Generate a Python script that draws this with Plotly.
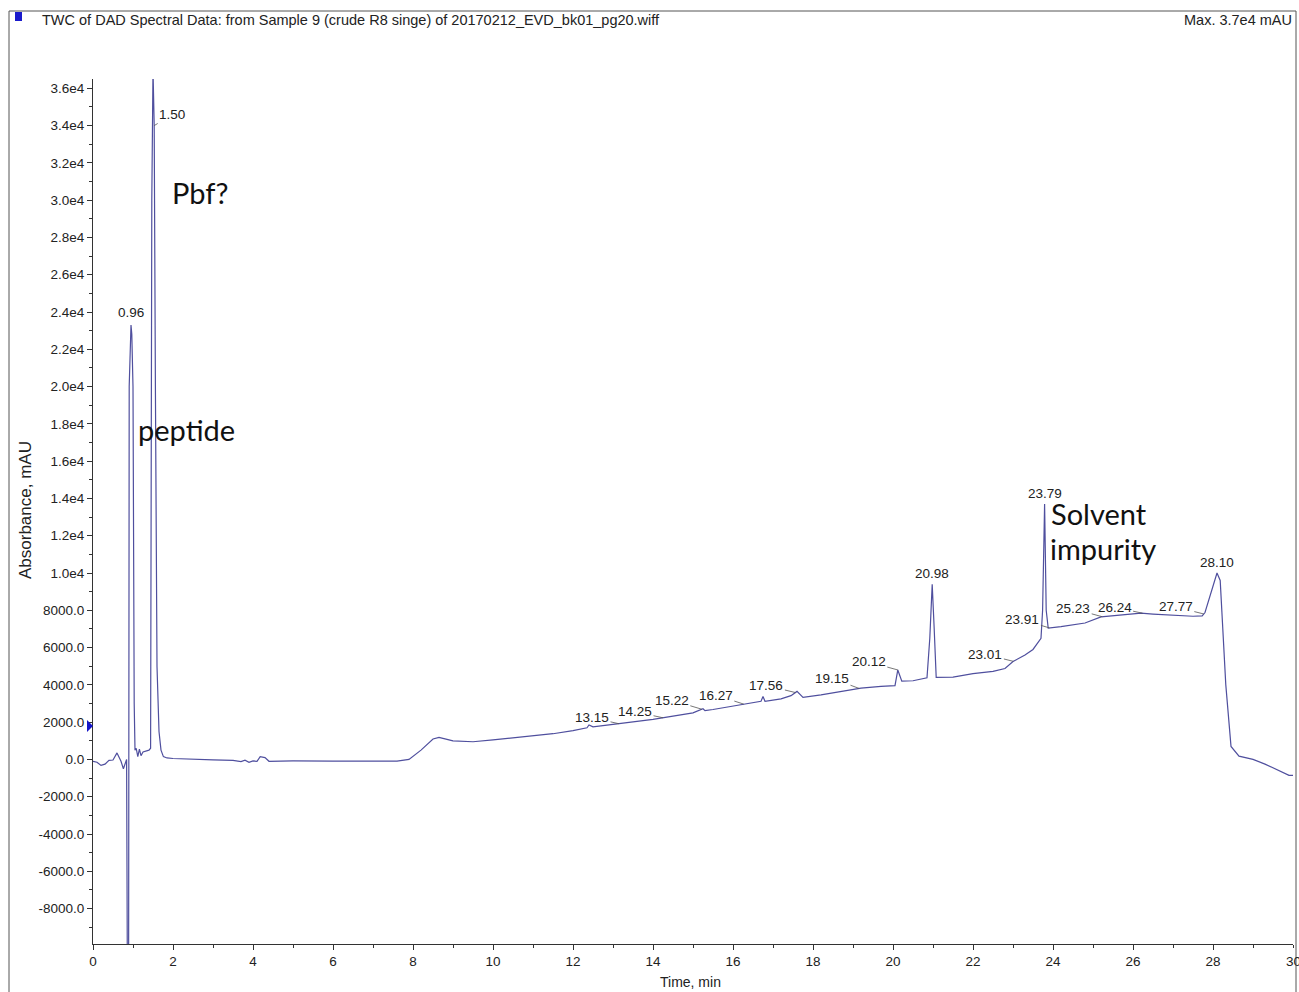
import numpy as np
import plotly.graph_objects as go

# Chromatogram trace: retention time (min) vs absorbance (mAU)
time_min = [
    0.00, 0.10, 0.20, 0.30, 0.40, 0.50, 0.60, 0.65, 0.70, 0.76, 0.80, 0.84,
    0.86, 0.89, 0.905, 0.93, 0.95, 0.97, 1.00, 1.03, 1.05, 1.08, 1.12, 1.16,
    1.20, 1.25, 1.32, 1.40, 1.44, 1.47, 1.50, 1.53, 1.56, 1.60, 1.65, 1.70,
    1.76, 1.85, 2.00, 2.50, 3.00, 3.50, 3.70, 3.80, 3.90, 4.00, 4.10, 4.18,
    4.30, 4.40, 5.00, 6.00, 7.00, 7.60, 7.90, 8.20, 8.50, 8.65, 9.00, 9.50,
    10.00, 10.50, 11.00, 11.50, 12.00, 12.35, 12.40, 12.50, 13.00, 13.50,
    14.00, 14.50, 15.00, 15.25, 15.30, 15.50, 16.00, 16.30, 16.60, 16.70,
    16.75, 16.80, 17.20, 17.45, 17.60, 17.75, 18.20, 18.70, 19.20, 19.70,
    20.05, 20.12, 20.22, 20.50, 20.85, 20.92, 20.98, 21.03, 21.08, 21.50,
    22.00, 22.50, 22.80, 23.00, 23.30, 23.50, 23.70, 23.74, 23.79, 23.83,
    23.88, 24.20, 24.80, 25.20, 25.60, 26.20, 26.50, 27.00, 27.50, 27.73,
    27.80, 28.10, 28.18, 28.32, 28.45, 28.65, 29.00, 29.30, 29.60, 29.90,
    30.00,
]
absorbance_mau = [
    -100, -150, -320, -250, -50, -30, 350, 150, -100, -500, -200, 0,
    -12000, -12000, 20000, 22500, 23300, 22800, 20000, 3000, 500, 600, 150, 550,
    200, 400, 450, 500, 600, 30000, 37000, 34000, 20000, 5000, 1500, 500,
    150, 80, 50, 0, -20, -50, -120, -40, -150, -80, -100, 150,
    100, -100, -80, -90, -100, -90, 0, 500, 1100, 1180, 1000, 950,
    1050, 1150, 1280, 1380, 1550, 1700, 1850, 1750, 1880, 2000,
    2150, 2320, 2500, 2720, 2620, 2680, 2850, 2980, 3080, 3120,
    3380, 3120, 3250, 3420, 3650, 3330, 3460, 3650, 3830, 3920,
    3960, 4800, 4200, 4220, 4380, 6500, 9400, 7000, 4400, 4420,
    4600, 4720, 4880, 5250, 5600, 5900, 6500, 8000, 13700, 8000,
    7050, 7120, 7320, 7650, 7720, 7850, 7800, 7720, 7680, 7700,
    7880, 10000, 9600, 4000, 700, 180, 0, -250, -550, -850,
    -860,
]

# Retention-time labels
peak_labels = ["0.96", "1.50", "13.15", "14.25", "15.22", "16.27", "17.56",
               "19.15", "20.12", "20.98", "23.01", "23.79", "23.91", "25.23",
               "26.24", "27.77", "28.10"]
peak_times = [0.95, 1.53, 13.15, 14.25, 15.22, 16.27, 17.56,
              19.15, 20.12, 20.98, 23.01, 23.79, 23.91, 25.23,
              26.24, 27.77, 28.10]

# Axis ticks
x_tick_vals = [0, 2, 4, 6, 8, 10, 12, 14, 16, 18, 20, 22, 24, 26, 28, 30]
x_tick_text = ["0", "2", "4", "6", "8", "10", "12", "14", "16", "18", "20",
               "22", "24", "26", "28", "30"]
y_tick_vals = [-8000, -6000, -4000, -2000, 0, 2000, 4000, 6000, 8000, 10000,
               12000, 14000, 16000, 18000, 20000, 22000, 24000, 26000, 28000,
               30000, 32000, 34000, 36000]
y_tick_text = ["-8000.0", "-6000.0", "-4000.0", "-2000.0", "0.0", "2000.0",
               "4000.0", "6000.0", "8000.0", "1.0e4", "1.2e4", "1.4e4",
               "1.6e4", "1.8e4", "2.0e4", "2.2e4", "2.4e4", "2.6e4", "2.8e4",
               "3.0e4", "3.2e4", "3.4e4", "3.6e4"]

threshold_mau = 1800  # marker on the absorbance axis

W, H = 1299, 992
ML, MR, MT, MB = 93, 6, 79, 48
PW, PH = W - ML - MR, H - MT - MB
Y_RANGE = [-9900, 36500]


def px(x):
    return (x - ML) / PW


def py(y):
    return (H - MB - y) / PH


def val_to_paper(v):
    return (v - Y_RANGE[0]) / (Y_RANGE[1] - Y_RANGE[0])


TICK_FONT = "Liberation Sans, Arial, sans-serif"
NOTE_FONT = "Lato, Open Sans, sans-serif"
LINE_COLOR = "#4f4f9e"

fig = go.Figure()
fig.add_trace(go.Scatter(
    x=time_min, y=absorbance_mau, mode="lines",
    line=dict(color=LINE_COLOR, width=1.2),
    hoverinfo="skip", showlegend=False,
))

annotations = []
lbl_font = dict(family=TICK_FONT, size=13.5, color="#222")

# labels drawn directly above the peak apex
apex_labels = {"0.96": 3, "20.98": 1, "23.79": 1, "28.10": 1}
# labels connected to the trace with a short leader (offset in px)
leader_offsets = {
    "1.50": (18, -11), "13.15": (-27, -6), "14.25": (-28, -6),
    "15.22": (-30, -9), "16.27": (-28, -9), "17.56": (-29, -7),
    "19.15": (-27, -10), "20.12": (-29, -8), "23.01": (-28, -7),
    "23.91": (-27, -8), "25.23": (-29, -8), "26.24": (-28, -6),
    "27.77": (-28, -7),
}
for lab, t in zip(peak_labels, peak_times):
    yv = float(np.interp(t, time_min, absorbance_mau))
    if lab in apex_labels:
        annotations.append(dict(
            x=t, y=yv, xref="x", yref="y", text=lab, showarrow=False,
            xanchor="center", yanchor="bottom", yshift=apex_labels[lab],
            font=lbl_font))
    else:
        ax, ay = leader_offsets[lab]
        annotations.append(dict(
            x=t, y=yv, xref="x", yref="y", text=lab, showarrow=True,
            arrowhead=0, arrowwidth=0.8, arrowcolor="#555",
            ax=ax, ay=ay, axref="pixel", ayref="pixel",
            font=lbl_font, standoff=0))

# hand-written notes
note_font = dict(family=NOTE_FONT, size=29, color="#111")
for text, x0, yc in [("Pbf?", 170, 192), ("peptide", 136, 429),
                     ("Solvent", 1049, 513), ("impurity", 1048, 548)]:
    annotations.append(dict(
        x=px(x0), y=py(yc), xref="paper", yref="paper", text=text,
        showarrow=False, xanchor="left", yanchor="middle", font=note_font))

# header, last x tick label (runs into the frame) and axis titles
annotations += [
    dict(x=px(40), y=py(20), xref="paper", yref="paper", showarrow=False,
         xanchor="left", yanchor="middle",
         text="TWC of DAD Spectral Data: from Sample 9 (crude R8 singe) of 20170212_EVD_bk01_pg20.wiff",
         font=dict(family=TICK_FONT, size=14.5, color="#222")),
    dict(x=px(1294), y=py(20), xref="paper", yref="paper", showarrow=False,
         xanchor="right", yanchor="middle", text="Max. 3.7e4 mAU",
         font=dict(family=TICK_FONT, size=14.5, color="#222")),
    dict(x=x_tick_vals[-1], y=py(961), xref="x", yref="paper",
         showarrow=False, xanchor="center", yanchor="middle",
         text=x_tick_text[-1],
         font=dict(family=TICK_FONT, size=13.5, color="#222")),
    dict(x=px(690), y=py(982), xref="paper", yref="paper", showarrow=False,
         xanchor="center", yanchor="middle", text="Time, min",
         font=dict(family=TICK_FONT, size=14, color="#222")),
    dict(x=px(25), y=py(510), xref="paper", yref="paper", showarrow=False,
         xanchor="center", yanchor="middle", text="Absorbance, mAU",
         textangle=-90, font=dict(family=TICK_FONT, size=17, color="#222")),
]

ty = val_to_paper(threshold_mau)
dy = 6 / PH
shapes = [
    # outer frame
    dict(type="rect", xref="paper", yref="paper",
         x0=px(9), x1=px(1296), y0=py(1010), y1=py(11),
         line=dict(color="#555", width=1), fillcolor="rgba(0,0,0,0)"),
    # header colour box
    dict(type="rect", xref="paper", yref="paper",
         x0=px(15), x1=px(22), y0=py(21), y1=py(12),
         line=dict(width=0), fillcolor="#1a1acc"),
    # axis marker triangle
    dict(type="path", xref="paper", yref="paper",
         path=f"M {px(87)},{ty - dy} L {px(87)},{ty + dy} L {px(93)},{ty} Z",
         line=dict(width=0), fillcolor="#1414c8"),
]

axis_common = dict(
    showgrid=False, zeroline=False, showline=True, linecolor="#333",
    linewidth=1, ticks="outside", ticklen=5, tickwidth=1, tickcolor="#333",
    tickfont=dict(family=TICK_FONT, size=13.5, color="#222"),
)

fig.update_layout(
    width=W, height=H,
    margin=dict(l=ML, r=MR, t=MT, b=MB),
    paper_bgcolor="white", plot_bgcolor="white",
    xaxis=dict(range=[0, 30], tickvals=x_tick_vals[:-1],
               ticktext=x_tick_text[:-1],
               minor=dict(dtick=1, tick0=0, ticks="outside", ticklen=3,
                          tickcolor="#333"),
               **axis_common),
    yaxis=dict(range=Y_RANGE, tickvals=y_tick_vals,
               ticktext=y_tick_text,
               minor=dict(dtick=1000, tick0=0, ticks="outside", ticklen=3,
                          tickcolor="#333"),
               **axis_common),
    annotations=annotations,
    shapes=shapes,
)

fig.write_html("out.html")
